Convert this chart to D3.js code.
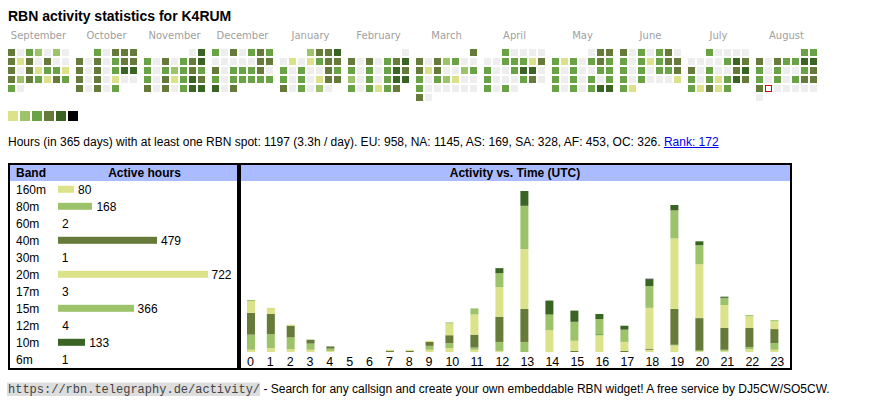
<!DOCTYPE html>
<html><head><meta charset="utf-8">
<script src="https://cdn.jsdelivr.net/npm/d3@7"></script>
<style>
html,body{margin:0;padding:0;background:#fff;}
svg{display:block;}
text{font-family:"Liberation Sans",Arial,sans-serif;white-space:pre;}
</style></head>
<body>
<svg id="c" width="870" height="407"></svg>
<script>
// ---------- DATA ----------
const callsign = "K4RUM";
const monthNames = ["September","October","November","December","January","February","March","April","May","June","July","August"];
// daily activity level per month (G=none, Y,L,M,O,D = increasing levels)
const monthLevels = [
  "OGMLGLGOYOGOGGOGOYMMYOLOMYOMMG",
  "MGOOOOGOGMOOOGOGMDDOGOGYGGOGOGM",
  "GDMGOGMODMGMLMOMMGOYMDOOGOGMDD",
  "MGOGMOMGGGGGOOOGMMMOGMGMMMMMDGO",
  "LOODGYGYMOOMGMGGOMMGMGYOOOGMGLG",
  "GOGOGMODMGMGMDOLGMGMDDMGMYMO",
  "OOGOLMGGOYOGGLMMGMLYGGMGGGGGGOG",
  "MGGGGGGMMMYOMGGMDDGMGGGMOGMGMG",
  "GOOMYMGMOMMGMGGMMMGMGMGMMGMGMDD",
  "OGMGMOGMGMYMOOMGMGMMOMGMGGGYMY",
  "MGGGGGGGGMDOOGMGGODMGMYMDOMYOYM",
  "MMOGOMMDDMGMGGMOMGMGMOOOGGGGGGG"
];
const startDate = [2024, 8, 1];     // first day shown (Sept 1, 2024)
const todayDate = [2025, 7, 25];    // highlighted day
const legendLevels = ["Y","L","M","O","D","X"];

const summaryText = "Hours (in 365 days) with at least one RBN spot: 1197 (3.3h / day). EU: 958, NA: 1145, AS: 169, SA: 328, AF: 453, OC: 326. ";
const rankText = "Rank: 172";

const bands = ["160m","80m","60m","40m","30m","20m","17m","15m","12m","10m","6m"];
const bandHours = [80,168,2,479,1,722,3,366,4,133,1];
const bandColorKey = ["Y","L","M","O","D","Y","M","L","O","D","X"];

const hours = d3.range(24).map(String);
// hourly active hours per band (UTC 0..23)
const h160 = [4,7,5,4,2,0,0,0,0,4,7,4,2,0,0,0,0,0,4,12,2,2,5,4];
const h80  = [27,25,21,11,4,0,0,0,0,7,9,4,16,18,0,0,0,0,0,0,0,2,4,12];
const h60  = [0,0,0,0,0,0,0,0,0,0,0,0,0,0,0,0,0,0,0,1,1,0,0,0];
const h40  = [39,36,21,7,4,0,0,2,2,7,14,23,45,59,0,2,0,2,2,64,57,39,34,25];
const h30  = [0,0,0,0,0,0,0,0,0,0,0,0,0,0,0,0,0,0,0,0,1,0,0,0];
const h20  = [21,11,2,0,0,0,0,2,2,2,21,36,53,107,39,18,30,16,73,126,96,41,21,14];
const h17  = [0,0,0,0,0,0,0,0,0,0,0,0,0,0,0,0,2,1,0,0,0,0,0,0];
const h15  = [2,0,0,0,0,0,0,0,0,0,2,11,25,77,28,34,27,21,39,50,34,12,2,2];
const h12  = [0,0,0,0,0,0,0,0,0,0,0,0,0,2,0,0,0,0,0,1,0,1,0,0];
const h10  = [0,0,0,0,0,0,0,0,0,0,0,0,9,25,25,20,9,7,12,9,7,2,0,0];
const h6   = [0,0,0,0,0,0,0,0,0,0,0,0,0,0,0,0,0,0,1,0,0,0,0,0];
const hourly = [h160,h80,h60,h40,h30,h20,h17,h15,h12,h10,h6];

const footerUrl = "https://rbn.telegraphy.de/activity/";
const footerText = " - Search for any callsign and create your own embeddable RBN widget! A free service by DJ5CW/SO5CW.";

// ---------- DRAW ----------
const svg = d3.select("#c");
const color = d3.scaleOrdinal()
  .domain(["G","Y","L","M","O","D","X"])
  .range(["#eeeeee","#dce28a","#9dc36a","#69a346","#667a3a","#3a6424","#000000"]);

svg.append("text").attr("x",8).attr("y",21)
  .attr("font-size",14).attr("font-weight","bold").attr("fill","#000")
  .text("RBN activity statistics for " + callsign);

// calendar
const monthX = d3.scaleBand().domain(monthNames).range([8, 8 + 12*68 - 5]).paddingInner(5/68);
const colX = d3.scaleLinear().domain([0,1]).range([0,9]);
const rowY = d3.scaleLinear().domain([0,1]).range([49,58]);

const cal = svg.append("g");
monthNames.forEach((m, mi) => {
  const first = new Date(startDate[0], startDate[1] + mi, 1);
  const offset = first.getDay();
  cal.append("text").attr("x", monthX(m) + 30.5).attr("y", 38.5)
    .attr("text-anchor","middle").attr("font-size",10)
    .style("font-family","'DejaVu Sans',Verdana,sans-serif")
    .attr("fill","#a0a0a0").text(m);
  const days = monthLevels[mi].split("").map((lv, i) => {
    const d = new Date(first.getFullYear(), first.getMonth(), i + 1);
    return {lv, d, col: d.getDay(), row: Math.floor((i + offset)/7)};
  });
  cal.selectAll(null).data(days).enter().append("rect")
    .attr("x", d => monthX(m) + colX(d.col))
    .attr("y", d => rowY(d.row))
    .attr("width",7).attr("height",7)
    .attr("fill", d => color(d.lv));
  days.filter(d => d.d.getFullYear()===todayDate[0] && d.d.getMonth()===todayDate[1] && d.d.getDate()===todayDate[2])
    .forEach(d => {
      cal.append("rect").attr("x", monthX(m) + colX(d.col) + 0.5).attr("y", rowY(d.row) + 0.5)
        .attr("width",6).attr("height",6).attr("fill","#fff").attr("stroke","#e00000").attr("stroke-width",1);
    });
});

// legend
const legX = d3.scaleLinear().domain([0,1]).range([8,20]);
svg.append("g").selectAll("rect").data(legendLevels).enter().append("rect")
  .attr("x",(d,i)=>legX(i)).attr("y",111).attr("width",10).attr("height",10)
  .attr("fill", d => color(d));

// summary line
const sum = svg.append("text").attr("x",8).attr("y",146).attr("font-size",12).attr("fill","#000").text(summaryText);
const sw = sum.node().getComputedTextLength();
const rk = svg.append("text").attr("x",8+sw).attr("y",146).attr("font-size",12).attr("fill","#0000ee").text(rankText);
const rw = rk.node().getComputedTextLength();
svg.append("line").attr("x1",8+sw).attr("x2",8+sw+rw).attr("y1",147.5).attr("y2",147.5).attr("stroke","#0000ee").attr("stroke-width",1);

// ---- left table ----
const tbl = svg.append("g");
tbl.append("rect").attr("x",9).attr("y",164).attr("width",229).attr("height",205)
  .attr("fill","#fff").attr("stroke","#000").attr("stroke-width",2);
tbl.append("rect").attr("x",10).attr("y",165).attr("width",227).attr("height",16).attr("fill","#aabbff");
tbl.append("text").attr("x",16).attr("y",177).attr("font-size",12).attr("font-weight","bold").text("Band");
tbl.append("text").attr("x",144.5).attr("y",177).attr("text-anchor","middle").attr("font-size",12).attr("font-weight","bold").text("Active hours");

const rowS = d3.scaleBand().domain(bands).range([180.8, 180.8 + 17*bands.length]);
const barS = d3.scaleLinear().domain([0, d3.max(bandHours)]).range([58, 208]);
const rows = tbl.selectAll("g.row").data(bands).enter().append("g")
  .attr("transform", d => `translate(0,${rowS(d) + rowS.bandwidth()/2})`);
rows.append("text").attr("x",16).attr("y",4.3).attr("font-size",12).text(d => d);
rows.append("rect").attr("x",58).attr("y",-3.5).attr("height",7)
  .attr("width",(d,i)=> Math.floor(Math.max(0, barS(bandHours[i]) - 58)))
  .attr("fill",(d,i)=> color(bandColorKey[i]));
rows.append("text").attr("x",(d,i)=> barS(bandHours[i]) + 3.5).attr("y",4.3).attr("font-size",12)
  .text((d,i)=> bandHours[i]);

// ---- right chart ----
const ch = svg.append("g");
ch.append("rect").attr("x",240).attr("y",164).attr("width",551).attr("height",205)
  .attr("fill","#fff").attr("stroke","#000").attr("stroke-width",2);
ch.append("rect").attr("x",241).attr("y",165).attr("width",549).attr("height",16).attr("fill","#aabbff");
ch.append("text").attr("x",515).attr("y",177).attr("text-anchor","middle").attr("font-size",12).attr("font-weight","bold").text("Activity vs. Time (UTC)");

// column lefts: table-like columns, wider for two-digit labels
const lefts = [];
hours.reduce((acc, h) => { lefts.push(acc); return acc + (h.length > 1 ? 25 : 19.84); }, 247);
const xH = d3.scaleOrdinal().domain(hours).range(lefts);

const stackData = hours.map((h, i) => {
  const o = {hour: h};
  bands.forEach((b, bi) => o[b] = hourly[bi][i]);
  return o;
});
const series = d3.stack().keys(bands)(stackData);
const maxTot = d3.max(series[series.length-1], d => d[1]);
const y = d3.scaleLinear().domain([0, maxTot]).range([352, 191]);

ch.selectAll("g.s").data(series).enter().append("g")
  .attr("fill", (s,i) => color(bandColorKey[i]))
  .selectAll("rect").data(s => s).enter().append("rect")
  .attr("x", d => xH(d.data.hour)).attr("width", 8)
  .attr("y", d => y(d[1])).attr("height", d => y(d[0]) - y(d[1]));

ch.selectAll("text.hl").data(hours).enter().append("text")
  .attr("x", d => xH(d)).attr("y", 365.5).attr("font-size",12.5).text(d => d);

// footer
const fbg = svg.append("rect").attr("fill","#dddddd");
const fu = svg.append("text").attr("x",8).attr("y",393).attr("font-size",12)
  .style("font-family","'Liberation Mono','Courier New',monospace").attr("fill","#444").text(footerUrl);
const fw = fu.node().getComputedTextLength();
fbg.attr("x",7).attr("y",382.5).attr("width",fw+1).attr("height",13.5);
svg.append("text").attr("x",8+fw).attr("y",393).attr("font-size",12).attr("fill","#000").text(footerText);
</script>
</body></html>
